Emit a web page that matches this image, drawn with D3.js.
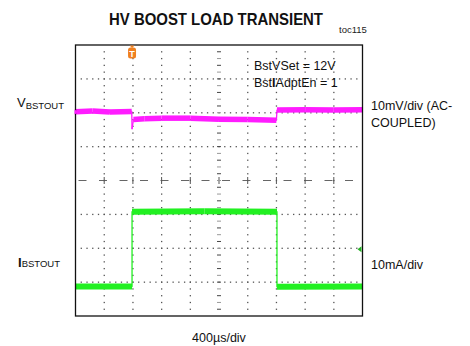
<!DOCTYPE html>
<html><head><meta charset="utf-8">
<script src="https://cdn.jsdelivr.net/npm/d3@7"></script>
<style>html,body{margin:0;padding:0;background:#fff;}svg{display:block;font-family:"Liberation Sans",Arial,sans-serif;}</style>
</head><body>
<script>
// ---- data (screen divisions: time 0..10 div, amplitude -4..4 div) ----
const title = "HV BOOST LOAD TRANSIENT";
const tocLabel = "toc115";
const timeScaleLabel = "400µs/div";
const settingLines = [["BstVSet = 12V"], ["Bst", "I", "AdptEn = 1"]];
// VBSTOUT trace (10mV/div, AC-coupled), values in mV of screen offset
const vTime = [0, 0.6, 1.2, 1.96, 1.97, 2.02, 2.4, 3.0, 4.0, 5.0, 6.0, 7.0, 7.02, 8.0, 9.0, 10];
const vMilliV = [20.3, 20.5, 20.2, 20.4, 15.3, 18.0, 18.2, 18.4, 18.4, 18.1, 18.0, 17.8, 20.8, 20.9, 20.8, 20.9];
// IBSTOUT trace (10mA/div), values in mA of screen offset
const iTime = [0, 1.97, 1.97, 4.5, 7.02, 7.02, 10];
const iMilliA = [-31.3, -31.3, -9.2, -9.1, -9.2, -31.4, -31.3];
const vDivScale = 10; // mV per div
const iDivScale = 10; // mA per div
const triggerTime = 1.97;
const vMarkerLevel = 20.2; // mV
const iMarkerLevel = -20.3; // mA

const W = 470, H = 346;
const svg = d3.select("body").append("svg").attr("width", W).attr("height", H);

const x = d3.scaleLinear().domain([0, 10]).range([75.5, 362.5]);
const y = d3.scaleLinear().domain([-4, 4]).range([316, 45]);
const yV = v => y(v / vDivScale);
const yI = v => y(v / iDivScale);

// title
svg.append("text").attr("x", 109).attr("y", 25).attr("font-size", 16.5).attr("font-weight", "bold")
  .attr("textLength", 214).attr("lengthAdjust", "spacingAndGlyphs").attr("fill", "#111").text(title);
svg.append("text").attr("x", 339).attr("y", 33).attr("font-size", 9.5).attr("fill", "#222").text(tocLabel);

// grid
const g = svg.append("g");
const minor = d3.range(0, 10.0001, 0.2);
const minorY = d3.range(-4, 4.0001, 0.2);
[-3, -2, -1, 1, 2, 3].forEach(d => {
  g.selectAll(null).data(minor.slice(1, -1)).enter().append("rect")
    .attr("x", t => x(t) - 0.6).attr("y", y(d) - 0.6).attr("width", 1.3).attr("height", 1.3).attr("fill", "#555");
});
[1, 2, 3, 4, 6, 7, 8, 9].forEach(d => {
  g.selectAll(null).data(minorY.slice(1, -1)).enter().append("rect")
    .attr("x", x(d) - 0.6).attr("y", v => y(v) - 0.6).attr("width", 1.3).attr("height", 1.3).attr("fill", "#555");
});
// center horizontal axis: dashes + crosses
g.append("line").attr("x1", x(0) + 3).attr("x2", x(10)).attr("y1", y(0)).attr("y2", y(0))
  .attr("stroke", "#666").attr("stroke-width", 1).attr("stroke-dasharray", "8,12.5");
g.selectAll(null).data(d3.range(1, 10)).enter().append("line")
  .attr("x1", t => x(t)).attr("x2", t => x(t)).attr("y1", y(0) - 3.5).attr("y2", y(0) + 3.5)
  .attr("stroke", "#555").attr("stroke-width", 1);
// center vertical axis: short dashes
g.selectAll(null).data(minorY.slice(1, -1)).enter().append("line")
  .attr("x1", x(5) - 2).attr("x2", x(5) + 2).attr("y1", v => y(v)).attr("y2", v => y(v))
  .attr("stroke", (v, i) => i % 2 ? "#999" : "#444").attr("stroke-width", 1);

// traces
function drawTrace(times, vals, yf, color, w) {
  const tg = svg.append("g");
  for (let i = 0; i < times.length - 1; i++) {
    const thick = (times[i + 1] - times[i]) >= 0.1;
    tg.append("line")
      .attr("x1", x(times[i])).attr("y1", yf(vals[i]))
      .attr("x2", x(times[i + 1])).attr("y2", yf(vals[i + 1]))
      .attr("stroke", color).attr("stroke-width", thick ? w : 1.3)
      .attr("stroke-linecap", thick ? "butt" : "round");
  }
}
drawTrace(vTime, vMilliV, yV, "#ff1cff", 5.5);
drawTrace(iTime, iMilliA, yI, "#22f022", 6);

// frame
svg.append("rect").attr("x", x(0)).attr("y", y(4)).attr("width", x(10) - x(0)).attr("height", y(-4) - y(4))
  .attr("fill", "none").attr("stroke", "#111").attr("stroke-width", 1.3);

// trigger marker
const tx = x(triggerTime);
svg.append("path").attr("d", `M${tx - 2.5},${y(4) + 0.5} L${tx + 2.5},${y(4) + 0.5} L${tx},${y(4) + 3} Z`).attr("fill", "#f08020");
svg.append("rect").attr("x", tx - 4).attr("y", y(4) + 2.5).attr("width", 8).attr("height", 11).attr("rx", 2.5).attr("fill", "#f08020");
svg.append("text").attr("x", tx).attr("y", y(4) + 11.5).attr("text-anchor", "middle").attr("font-size", 9).attr("font-weight", "bold")
  .attr("fill", "#fff").text("T");

// channel markers
const vy = yV(vMarkerLevel);
svg.append("path").attr("d", `M${x(0) - 1},${vy - 2.5} L${x(0) + 3},${vy} L${x(0) - 1},${vy + 2.5} Z`).attr("fill", "#ff1cff");
const iy = yI(iMarkerLevel);
svg.append("path").attr("d", `M${x(10) - 1},${iy - 3} L${x(10) - 5},${iy} L${x(10) - 1},${iy + 3} Z`).attr("fill", "#22b022");

// settings text
settingLines.forEach((parts, i) => {
  const t = svg.append("text").attr("x", 254).attr("y", 69.5 + i * 17).attr("font-size", 12.5).attr("fill", "#111");
  parts.forEach(p => {
    const sp = t.append("tspan").text(p);
    if (p === "I") sp.attr("font-weight", "bold");
  });
});

// left labels
const lv = svg.append("text").attr("x", 17).attr("y", 106.5).attr("font-size", 13).attr("fill", "#111");
lv.append("tspan").text("V");
lv.append("tspan").attr("font-size", 9.5).attr("dy", 2).text("BSTOUT");
const li = svg.append("text").attr("x", 18).attr("y", 266.5).attr("font-size", 13).attr("fill", "#111");
li.append("tspan").attr("font-weight", "bold").text("I");
li.append("tspan").attr("font-size", 9.5).attr("dy", 0.5).text("BSTOUT");

// right labels
svg.append("text").attr("x", 371).attr("y", 110).attr("font-size", 12.5).attr("fill", "#111").text("10mV/div (AC-");
svg.append("text").attr("x", 371).attr("y", 127).attr("font-size", 12.5).attr("fill", "#111").text("COUPLED)");
svg.append("text").attr("x", 371).attr("y", 268.5).attr("font-size", 12.5).attr("fill", "#111").text("10mA/div");

// time scale
svg.append("text").attr("x", x(5)).attr("y", 342).attr("text-anchor", "middle").attr("font-size", 12.5).attr("fill", "#111").text(timeScaleLabel);
</script>
</body></html>
